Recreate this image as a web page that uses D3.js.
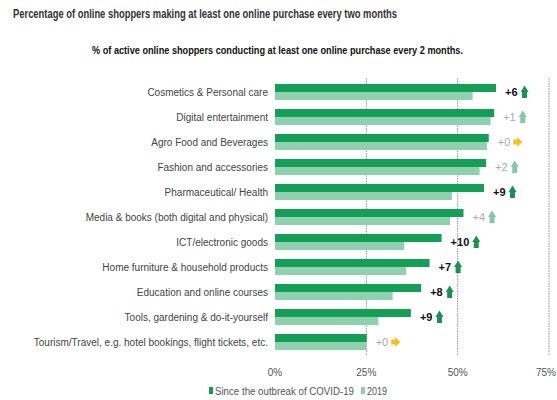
<!DOCTYPE html>
<html>
<head>
<meta charset="utf-8">
<script src="https://cdn.jsdelivr.net/npm/d3@7"></script>
<style>
  body { margin: 0; background: #fff; }
  text { font-family: "Liberation Sans Narrow", "Arial Narrow", "Liberation Sans", sans-serif; }
</style>
</head>
<body>
<svg id="chart" width="557" height="400"></svg>
<script>
// values (% of shoppers)
var categories = ["Cosmetics & Personal care", "Digital entertainment", "Agro Food and Beverages",
    "Fashion and accessories", "Pharmaceutical/ Health", "Media & books (both digital and physical)",
    "ICT/electronic goods", "Home furniture & household products", "Education and online courses",
    "Tools, gardening & do-it-yourself", "Tourism/Travel, e.g. hotel bookings, flight tickets, etc."];
var covidValues = [60.5, 60, 58.5, 57.8, 57.2, 51.6, 45.6, 42.3, 40, 37.2, 25.1];
var values2019 = [54.1, 59, 58, 56, 48.4, 47.9, 35.4, 35.9, 32.2, 28.3, 25];
var deltaLabels = ["+6", "+1", "+0", "+2", "+9", "+4", "+10", "+7", "+8", "+9", "+0"];
var significant = [true, false, false, false, true, false, true, true, true, true, false];
var tickValues = [0, 25, 50, 75];
var seriesNames = ["Since the outbreak of COVID-19", "2019"];

var DARK = "#13a056", LIGHT = "#8fd1ae", YELLOW = "#f4c21b";

var svg = d3.select("#chart");

var x = d3.scaleLinear().domain([0, 75]).range([275, 549]);
var y = d3.scaleBand().domain(categories).range([80, 355]);
var bw = y.bandwidth();

// titles
svg.append("text").attr("x", 13).attr("y", 18)
    .attr("font-size", 12).attr("font-weight", "bold").attr("fill", "#333")
    .attr("textLength", 384).attr("lengthAdjust", "spacingAndGlyphs")
    .text("Percentage of online shoppers making at least one online purchase every two months");

svg.append("text").attr("x", 92).attr("y", 54)
    .attr("font-size", 11).attr("font-weight", "bold").attr("fill", "#111")
    .attr("textLength", 371).attr("lengthAdjust", "spacingAndGlyphs")
    .text("% of active online shoppers conducting at least one online purchase every 2 months.");

// grid lines
svg.append("g").selectAll("line")
    .data(tickValues.filter(function(d) { return d > 0; }))
    .enter().append("line")
    .attr("x1", function(d) { return x(d); })
    .attr("x2", function(d) { return x(d); })
    .attr("y1", 78).attr("y2", 356)
    .attr("stroke", "#777").attr("stroke-width", 0.8)
    .attr("stroke-dasharray", "1.5,1");

// light 2019 bars underneath
svg.append("g").selectAll("rect")
    .data(categories).enter().append("rect")
    .attr("x", x(0))
    .attr("y", function(d) { return y(d) + bw * 0.46; })
    .attr("width", function(d, i) { return x(values2019[i]) - x(0); })
    .attr("height", bw * 0.34)
    .attr("fill", LIGHT);

// dark covid bars
svg.append("g").selectAll("rect")
    .data(categories).enter().append("rect")
    .attr("x", x(0))
    .attr("y", function(d) { return y(d) + bw * 0.16; })
    .attr("width", function(d, i) { return x(covidValues[i]) - x(0); })
    .attr("height", bw * 0.32)
    .attr("fill", DARK);

// category labels
svg.append("g").selectAll("text")
    .data(categories).enter().append("text")
    .attr("x", 268)
    .attr("y", function(d) { return y(d) + bw * 0.48; })
    .attr("dy", "0.35em")
    .attr("text-anchor", "end")
    .attr("font-size", 10).attr("fill", "#444")
    .text(function(d) { return d; });

// change labels + arrows
var notes = svg.append("g").selectAll("g")
    .data(categories).enter().append("g")
    .attr("transform", function(d, i) {
        var end = x(Math.max(covidValues[i], values2019[i]));
        return "translate(" + (end + 9) + "," + (y(d) + bw * 0.48) + ")";
    });

notes.append("text")
    .attr("dy", "0.35em")
    .attr("font-size", 11)
    .attr("font-weight", function(d, i) { return significant[i] ? "bold" : "normal"; })
    .attr("fill", function(d, i) { return significant[i] ? "#111" : "#aaa"; })
    .text(function(d, i) { return deltaLabels[i]; })
    .each(function(d, i) {
        var w = this.getComputedTextLength();
        var g = d3.select(this.parentNode);
        var ax = w + 3;
        if (deltaLabels[i] == "+0") {
            g.append("path")
                .attr("d", "M" + ax + ",-2.5 L" + (ax + 4) + ",-2.5 L" + (ax + 4) + ",-5 L" + (ax + 9) + ",0 L" + (ax + 4) + ",5 L" + (ax + 4) + ",2.5 L" + ax + ",2.5 Z")
                .attr("fill", YELLOW);
        } else {
            g.append("path")
                .attr("d", "M" + (ax + 1.5) + ",6 L" + (ax + 1.5) + ",0 L" + ax + ",0 L" + (ax + 4) + ",-6.5 L" + (ax + 8) + ",0 L" + (ax + 6.5) + ",0 L" + (ax + 6.5) + ",6 Z")
                .attr("fill", significant[i] ? "#1a9152" : "#86c7a6");
        }
    });

// x axis tick labels (last one kept inside the page edge)
svg.append("g").selectAll("text")
    .data(tickValues).enter().append("text")
    .attr("y", 376)
    .attr("text-anchor", "middle")
    .attr("font-size", 10).attr("fill", "#555")
    .text(function(d) { return d + "%"; })
    .attr("x", function(d) {
        var w = this.getComputedTextLength();
        return Math.min(x(d), 557 - w / 2 - 1);
    });

// legend
var legendX = [209, 361];
var legend = svg.append("g").selectAll("g")
    .data(seriesNames).enter().append("g")
    .attr("transform", function(d, i) { return "translate(" + legendX[i] + ",391)"; });

legend.append("rect")
    .attr("x", 0).attr("y", -4).attr("width", 4).attr("height", 7)
    .attr("fill", function(d, i) { return i == 0 ? DARK : LIGHT; });

legend.append("text")
    .attr("x", 6).attr("dy", "0.35em")
    .attr("font-size", 10).attr("fill", "#555")
    .attr("textLength", function(d, i) { return i == 0 ? 139 : 20; })
    .attr("lengthAdjust", "spacingAndGlyphs")
    .text(function(d) { return d; });
</script>
</body>
</html>
